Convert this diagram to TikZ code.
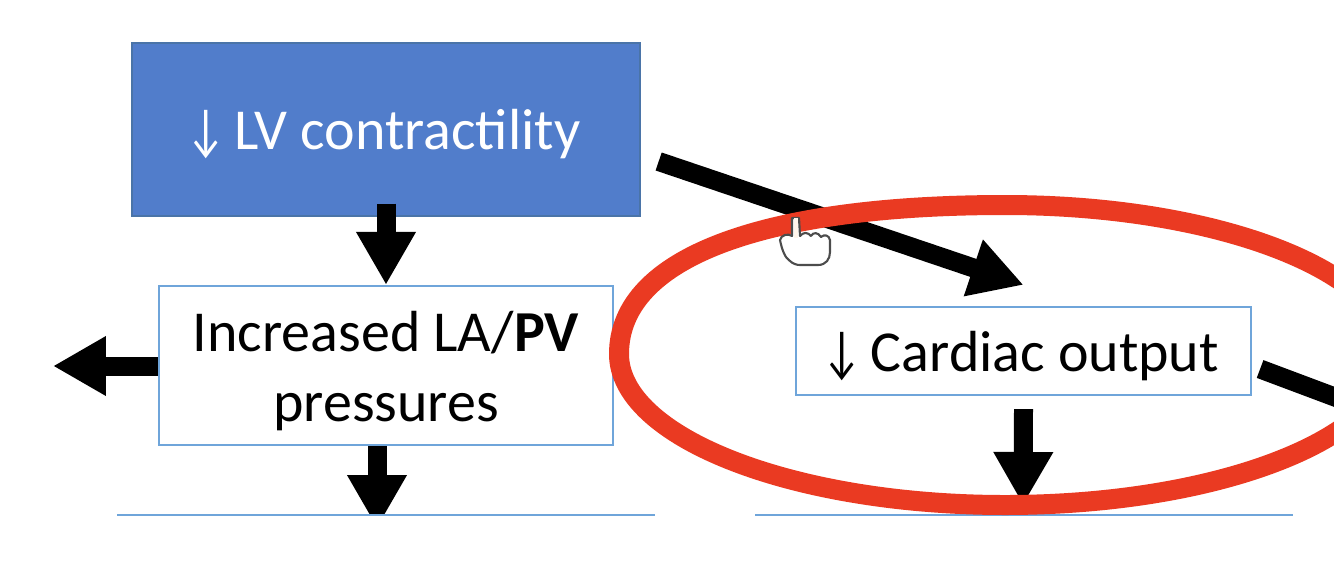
\documentclass[tikz,border=0pt]{standalone}
\usepackage{fontspec}
\setmainfont{Carlito}
\usetikzlibrary{arrows.meta}
\definecolor{lvblue}{HTML}{517DCB}
\definecolor{lvedge}{HTML}{4A74A8}
\definecolor{boxedge}{HTML}{6FA5DA}
\definecolor{ringred}{HTML}{EA3A22}
\newcommand{\downmark}{\scalebox{0.75}[1]{↓}\hspace{5pt}}

\begin{document}
\begin{tikzpicture}[
        x=0.02cm, y=-0.02cm,
        filled/.style={draw=lvedge, fill=lvblue, text=white, rectangle, line width=0.8pt, minimum width=10.16cm, minimum height=3.46cm, align=center, text height=23.2pt, text depth=0pt},
        outlined/.style={draw=boxedge, fill=white, rectangle, line width=1.3pt, minimum width=9.08cm, minimum height=3.18cm, align=center},
        thinline/.style={draw=boxedge, line width=0.9pt},
        arrow/.style={-{Triangle[length=1.06cm, width=1.12cm]}, line width=0.38cm, black},
        plainbar/.style={line width=0.38cm, black},
        oval/.style={draw=ringred, line width=0.4cm},
        handshape/.style={draw=black!70, fill=white, line width=1.2pt, line join=round},
        font=\fontsize{33}{39.7}\selectfont
    ]
    \clip (0,0) rectangle (1334,575);

    % Nodes
    \node[filled] (lv) at (386,129.5) {\downmark LV contractility\kern3pt};
    \node[outlined] (la) at (386,365.5) {\rule{0pt}{29pt}Increased LA/\textbf{PV}\\pressures};
    \node[outlined, minimum height=1.76cm, minimum width=9.1cm, text height=23.8pt, text depth=0pt] (co) at (1023.5,351) {\downmark Cardiac output\kern3pt};

    % Cut-off boxes at the bottom
    \coordinate (leftrule1) at (117,515);
    \coordinate (leftrule2) at (655,515);
    \coordinate (rightrule1) at (755,515);
    \coordinate (rightrule2) at (1293,515);
    \coordinate (lefttip) at (53,366);
    \coordinate (lowtip) at (377,528);
    \coordinate (cotip) at (1023,505);
    \coordinate (offpage) at (1420,429);

    % Main flow arrows
    \draw[arrow] ([yshift=0.26cm]lv.south) -- (la.north);
    \draw[arrow] ([xshift=0.36cm, yshift=-0.64cm]lv.east) -- ([yshift=0.42cm]co.north);
    \draw[arrow] (la.west |- lefttip) -- (lefttip);
    \begin{scope}
        \clip (0,0) rectangle (1334,515);
        \draw[arrow] (lowtip |- la.south) -- (lowtip);
    \end{scope}
    \draw[arrow] ([yshift=-0.26cm]co.south) -- (cotip);
    \draw[plainbar] ([xshift=0.16cm, yshift=-0.36cm]co.east) -- (offpage);
    \draw[thinline] (leftrule1) -- (leftrule2);
    \draw[thinline] (rightrule1) -- (rightrule2);

    % Circled part
    \draw[oval] (619,354) .. controls (619,255) and (770,205) .. (1005,205)
        .. controls (1218,205) and (1391,272) .. (1391,355)
        .. controls (1391,438) and (1218,505) .. (1005,505)
        .. controls (792,505) and (619,437) .. (619,354) -- cycle;

    % Pointer
    \draw[handshape] (792,236) .. controls (788,233) and (781,235) .. (780,240)
        .. controls (782,250) and (785,258) .. (790,261)
        .. controls (793,264) and (797,265) .. (800,265) -- (818,265)
        .. controls (826,265) and (830,259) .. (830,252) -- (830,240)
        .. controls (829,235) and (824,234) .. (821,237)
        .. controls (818,232) and (813,232) .. (811,236)
        .. controls (808,232) and (803,232) .. (800,236) -- (799,218) -- (792,218) -- cycle;
    \fill[orange!8] (793.5,218) rectangle (797.5,238);
\end{tikzpicture}
\end{document}
